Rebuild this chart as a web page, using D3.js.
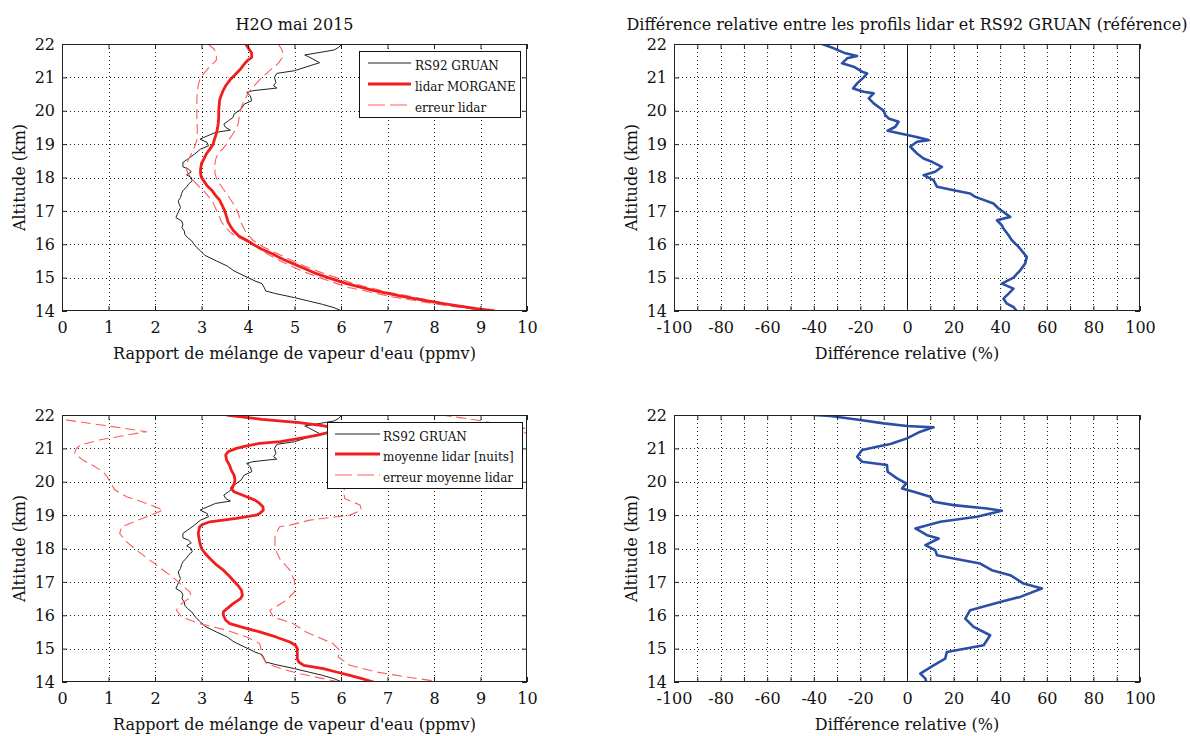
<!DOCTYPE html>
<html><head><meta charset="utf-8">
<script src="https://cdn.jsdelivr.net/npm/d3@7"></script>
<style>body{margin:0;background:#fff;} svg text{font-family:"DejaVu Serif",serif;fill:#111;}</style>
</head><body><svg id="c" width="1190" height="736"></svg>
<script>
// ---------- data (altitude km, value) ----------
const altTicks = [14,15,16,17,18,19,20,21,22];
const ppmvTicks = [0,1,2,3,4,5,6,7,8,9,10];
const diffTicks = [-100,-90,-80,-70,-60,-50,-40,-30,-20,-10,0,10,20,30,40,50,60,70,80,90,100];
const diffTickLabels = ["-100","","-80","","-60","","-40","","-20","","0","","20","","40","","60","","80","","100"];

const rs92 = [[22.0,6.02],[21.9,5.95],[21.82,5.85],[21.67,5.22],[21.62,5.3],[21.44,5.54],[21.2,5.0],[21.12,4.62],[21.0,4.57],[20.85,4.6],[20.75,4.55],[20.68,4.62],[20.6,4.1],[20.55,3.97],[20.45,4.05],[20.3,4.08],[20.2,3.92],[20.05,3.85],[19.9,3.7],[19.8,3.68],[19.7,3.58],[19.6,3.48],[19.5,3.52],[19.42,3.62],[19.35,3.3],[19.2,3.05],[19.15,2.97],[19.05,3.12],[18.95,3.15],[18.85,2.98],[18.7,2.85],[18.55,2.7],[18.45,2.6],[18.32,2.6],[18.25,2.72],[18.17,2.78],[18.08,2.68],[18.0,2.78],[17.9,2.8],[17.8,2.72],[17.72,2.68],[17.6,2.6],[17.52,2.57],[17.4,2.55],[17.3,2.5],[17.2,2.52],[17.1,2.55],[17.02,2.52],[16.9,2.48],[16.8,2.45],[16.7,2.57],[16.6,2.6],[16.5,2.58],[16.4,2.63],[16.3,2.64],[16.2,2.7],[16.1,2.79],[16.0,2.84],[15.9,2.9],[15.8,2.98],[15.67,3.07],[15.5,3.32],[15.35,3.55],[15.2,3.7],[15.1,3.85],[15.0,4.0],[14.9,4.15],[14.82,4.3],[14.7,4.35],[14.6,4.38],[14.52,4.6],[14.4,5.0],[14.3,5.3],[14.2,5.6],[14.1,5.85],[14.0,6.02]];

const lidarMai = [[22.0,3.95],[21.85,4.02],[21.72,4.08],[21.6,4.08],[21.52,4.0],[21.4,3.92],[21.22,3.82],[21.05,3.7],[20.92,3.61],[20.75,3.52],[20.62,3.47],[20.45,3.42],[20.32,3.39],[20.15,3.38],[20.0,3.37],[19.8,3.37],[19.62,3.36],[19.45,3.34],[19.32,3.32],[19.15,3.28],[19.0,3.25],[18.85,3.18],[18.72,3.11],[18.55,3.05],[18.42,3.0],[18.25,2.98],[18.12,2.98],[18.0,3.0],[17.92,3.04],[17.75,3.12],[17.62,3.22],[17.45,3.31],[17.32,3.39],[17.15,3.45],[17.0,3.5],[16.82,3.54],[16.67,3.57],[16.55,3.62],[16.42,3.68],[16.25,3.8],[16.12,3.97],[16.0,4.11],[15.85,4.3],[15.72,4.51],[15.55,4.75],[15.42,4.97],[15.25,5.25],[15.12,5.47],[15.0,5.72],[14.82,6.12],[14.62,6.69],[14.42,7.37],[14.22,8.2],[14.07,8.91],[14.0,9.31]];

const errBasMai = [[22.0,3.14],[21.85,3.27],[21.7,3.32],[21.52,3.32],[21.35,3.2],[21.2,3.1],[21.0,2.98],[20.82,2.94],[20.6,2.91],[20.3,2.9],[20.0,2.9],[19.7,2.9],[19.4,2.91],[19.12,2.9],[18.95,2.86],[18.82,2.82],[18.65,2.76],[18.52,2.71],[18.35,2.68],[18.22,2.68],[18.1,2.72],[17.92,2.82],[17.75,2.93],[17.62,3.04],[17.45,3.14],[17.32,3.22],[17.15,3.28],[17.02,3.32],[16.85,3.38],[16.67,3.43],[16.5,3.52],[16.32,3.65],[16.2,3.8],[16.07,4.0],[15.9,4.2],[15.72,4.4],[15.5,4.7],[15.32,4.97],[15.15,5.25],[15.0,5.54],[14.72,6.12],[14.42,7.12],[14.22,7.98],[14.1,8.6],[14.0,9.2]];

const errHautMai = [[22.0,4.65],[21.85,4.72],[21.72,4.76],[21.58,4.73],[21.42,4.65],[21.27,4.52],[21.12,4.4],[20.97,4.28],[20.82,4.18],[20.67,4.08],[20.52,4.0],[20.32,3.92],[20.12,3.86],[19.9,3.82],[19.62,3.79],[19.45,3.74],[19.32,3.68],[19.15,3.6],[19.0,3.54],[18.85,3.45],[18.72,3.36],[18.57,3.31],[18.42,3.29],[18.12,3.29],[17.95,3.33],[17.82,3.39],[17.67,3.46],[17.52,3.54],[17.37,3.61],[17.22,3.68],[17.07,3.74],[16.92,3.79],[16.62,3.86],[16.32,3.97],[16.12,4.11],[15.92,4.33],[15.77,4.55],[15.62,4.79],[15.47,5.02],[15.32,5.26],[15.15,5.58],[15.0,5.9],[14.85,6.2],[14.72,6.55],[14.57,7.0],[14.42,7.55],[14.3,7.98],[14.17,8.41],[14.08,8.85],[14.0,9.34]];

const diffMai = [[22.0,-36.4],[21.87,-31.4],[21.72,-26.4],[21.64,-21.4],[21.57,-25.7],[21.42,-27.9],[21.32,-22.9],[21.17,-19.3],[21.12,-17.1],[21.0,-18.6],[20.82,-21.4],[20.67,-23.1],[20.57,-18.6],[20.52,-14.3],[20.37,-16.4],[20.22,-14.3],[20.0,-10.0],[19.87,-9.3],[19.77,-7.9],[19.67,-3.6],[19.52,-5.0],[19.4,-8.3],[19.32,-2.9],[19.22,3.6],[19.12,9.3],[19.07,4.3],[18.92,1.4],[18.72,4.3],[18.57,7.1],[18.47,10.7],[18.32,15.0],[18.17,12.1],[18.07,7.1],[17.92,11.4],[17.72,12.9],[17.62,20.0],[17.52,27.1],[17.42,29.3],[17.22,37.1],[17.07,39.3],[16.82,44.3],[16.72,38.6],[16.57,40.7],[16.47,41.4],[16.27,43.6],[16.12,45.0],[15.92,47.9],[15.62,51.4],[15.42,50.7],[15.22,48.6],[15.0,45.7],[14.82,40.7],[14.67,45.7],[14.52,43.6],[14.37,41.4],[14.22,42.9],[14.12,45.7],[14.0,47.1]];

const lidarNuits = [[22.0,3.54],[21.87,4.3],[21.77,5.1],[21.68,5.6],[21.6,5.9],[21.5,5.8],[21.4,5.5],[21.3,5.11],[21.2,4.7],[21.15,4.25],[21.07,3.95],[21.0,3.75],[20.9,3.57],[20.8,3.52],[20.65,3.54],[20.5,3.6],[20.35,3.64],[20.2,3.7],[20.05,3.72],[19.92,3.7],[19.8,3.64],[19.7,3.7],[19.55,3.97],[19.45,4.15],[19.35,4.25],[19.25,4.32],[19.15,4.33],[19.05,4.25],[19.0,4.18],[18.9,3.75],[18.8,3.18],[18.72,3.02],[18.65,2.96],[18.45,2.93],[18.2,2.96],[18.0,3.0],[17.85,3.08],[17.7,3.18],[17.5,3.33],[17.35,3.47],[17.2,3.58],[17.05,3.68],[16.9,3.78],[16.75,3.86],[16.6,3.88],[16.5,3.84],[16.35,3.68],[16.2,3.55],[16.1,3.47],[16.0,3.47],[15.85,3.52],[15.75,3.61],[15.65,3.85],[15.5,4.25],[15.35,4.6],[15.2,4.9],[15.1,5.02],[15.0,5.06],[14.85,5.06],[14.7,5.06],[14.6,5.09],[14.5,5.2],[14.4,5.62],[14.3,5.9],[14.2,6.19],[14.1,6.45],[14.0,6.7]];

const errBasNuits = [[22.0,-1.2],[21.87,0.0],[21.7,0.85],[21.5,1.82],[21.4,1.4],[21.25,0.8],[21.1,0.4],[21.0,0.31],[20.85,0.27],[20.65,0.45],[20.5,0.65],[20.3,0.88],[20.15,0.97],[20.0,1.03],[19.75,1.14],[19.55,1.39],[19.35,1.82],[19.15,2.18],[18.95,1.82],[18.8,1.55],[18.65,1.28],[18.45,1.24],[18.2,1.39],[17.95,1.6],[17.65,1.89],[17.35,2.18],[17.05,2.46],[16.85,2.62],[16.7,2.75],[16.55,2.78],[16.4,2.62],[16.25,2.5],[16.15,2.46],[15.95,2.57],[15.75,2.96],[15.55,3.54],[15.35,3.97],[15.15,4.25],[15.0,4.28],[14.8,4.29],[14.55,4.4],[14.35,4.83],[14.25,5.11],[14.1,5.62],[14.0,5.97]];

const errHautNuits = [[22.0,8.16],[21.85,8.91],[21.7,9.5],[21.6,9.95],[21.5,10.1],[21.3,9.2],[21.1,7.8],[20.9,7.1],[20.6,6.8],[20.3,6.6],[20.0,6.3],[19.75,6.05],[19.5,6.08],[19.3,6.41],[19.15,6.44],[19.0,6.19],[18.85,5.33],[18.7,4.9],[18.65,4.68],[18.4,4.58],[18.0,4.58],[17.7,4.68],[17.35,4.9],[17.05,5.0],[16.7,5.0],[16.45,4.83],[16.15,4.47],[15.95,4.54],[15.75,4.97],[15.5,5.25],[15.15,5.83],[14.95,5.97],[14.75,5.94],[14.5,6.19],[14.3,6.76],[14.15,7.41],[14.0,8.16]];

const diffNuits = [[22.0,-40],[21.97,-32.9],[21.85,-20],[21.75,-10],[21.67,0],[21.63,11.4],[21.5,5.7],[21.3,0],[21.2,-4.3],[21.13,-7.1],[21.07,-11.4],[20.95,-19.3],[20.75,-21.4],[20.6,-19.3],[20.5,-8.6],[20.3,-8.3],[20.1,-4.3],[19.95,-0.3],[19.8,-2.1],[19.7,2.9],[19.55,10],[19.4,11.4],[19.3,20],[19.2,34.3],[19.13,40.7],[18.95,30],[18.8,14.3],[18.6,3.6],[18.4,8.6],[18.3,13.6],[18.1,7.9],[17.95,12.1],[17.8,12.9],[17.7,20],[17.55,31.4],[17.35,36.4],[17.2,44.3],[16.95,50],[16.8,57.9],[16.55,48.6],[16.4,40],[16.15,27.1],[15.9,25],[15.65,28.6],[15.4,35.7],[15.1,32.9],[14.9,17.1],[14.7,16.4],[14.5,11.4],[14.25,5.7],[14.1,7.9],[14.0,8.3]];

// ---------- styles ----------
const S = {
  rs92: {stroke:"#222", width:1, dash:null},
  lidar: {stroke:"#f21d1d", width:2.8, dash:null},
  err: {stroke:"#ff5c5c", width:1.1, dash:"10,5"},
  diff: {stroke:"#2c4fa6", width:2.6, dash:null}
};

const svg = d3.select("#c");

function panel(p) {
  const g = svg.append("g");
  const x = d3.scaleLinear().domain(p.xDomain).range([p.left, p.right]);
  const y = d3.scaleLinear().domain([14, 22]).range([p.bottom, p.top]);
  const cid = "clip" + p.id;
  svg.append("clipPath").attr("id", cid).append("rect")
    .attr("x", p.left).attr("y", p.top).attr("width", p.right - p.left).attr("height", p.bottom - p.top);
  const px = v => Math.round(x(v)) + 0.5, py = v => Math.round(y(v)) + 0.5;
  // grid
  const grid = g.append("g").attr("stroke", "#222").attr("stroke-width", 1).attr("stroke-dasharray", "1,3");
  grid.selectAll("line.v").data(p.xTicks.filter(v => v > p.xDomain[0] && v < p.xDomain[1])).join("line")
    .attr("x1", px).attr("x2", px).attr("y1", p.top).attr("y2", p.bottom);
  grid.selectAll("line.h").data(altTicks.filter(v => v > 14 && v < 22)).join("line")
    .attr("y1", py).attr("y2", py).attr("x1", p.left).attr("x2", p.right);
  // zero line
  if (p.zero) {
    g.append("line").attr("x1", px(0)).attr("x2", px(0)).attr("y1", p.top).attr("y2", p.bottom)
      .attr("stroke", "#111").attr("stroke-width", 1);
  }
  // series
  const line = d3.line().x(d => x(d[1])).y(d => y(d[0]));
  p.series.forEach(s => {
    g.append("path").datum(s.data).attr("d", line).attr("fill", "none")
      .attr("clip-path", `url(#${cid})`)
      .attr("stroke", s.style.stroke).attr("stroke-width", s.style.width)
      .attr("stroke-dasharray", s.style.dash).attr("stroke-linejoin", "round");
  });
  // axes
  const styleAxis = sel => {
    sel.select(".domain").remove();
    sel.attr("font-family", "DejaVu Serif").attr("font-size", 16);
    sel.selectAll(".tick line").attr("stroke", "#222");
    sel.selectAll(".tick text").attr("fill", "#111");
  };
  g.append("g").attr("transform", `translate(0,${p.bottom})`)
    .call(d3.axisBottom(x).tickValues(p.xTicks).tickSize(-5).tickPadding(11).tickFormat((d, i) => p.xLabels[i]))
    .call(styleAxis);
  g.append("g").attr("transform", `translate(0,${p.top})`)
    .call(d3.axisTop(x).tickValues(p.xTicks).tickSize(-5).tickFormat(""))
    .call(styleAxis);
  g.append("g").attr("transform", `translate(${p.left},0)`)
    .call(d3.axisLeft(y).tickValues(altTicks).tickSize(-5).tickPadding(7).tickFormat(d => String(d)))
    .call(styleAxis);
  g.append("g").attr("transform", `translate(${p.right},0)`)
    .call(d3.axisRight(y).tickValues(altTicks).tickSize(-5).tickFormat(""))
    .call(styleAxis);
  // frame
  g.append("rect").attr("x", p.left + 0.5).attr("y", p.top + 0.5)
    .attr("width", p.right - p.left - 1).attr("height", p.bottom - p.top - 1)
    .attr("fill", "none").attr("stroke", "#222").attr("stroke-width", 1);
  // labels
  const cx = (p.left + p.right) / 2, cy = (p.top + p.bottom) / 2;
  g.append("text").attr("x", cx).attr("y", p.bottom + 48).attr("text-anchor", "middle")
    .attr("font-size", 16).text(p.xTitle);
  g.append("text").attr("transform", `translate(${p.left - 37},${cy}) rotate(-90)`)
    .attr("text-anchor", "middle").attr("font-size", 16).text("Altitude (km)");
  if (p.title) {
    const t = g.append("text").attr("x", cx).attr("y", p.top - 14).attr("text-anchor", "middle")
      .attr("font-size", 16).text(p.title);
    const maxW = p.titleMax || 1000;
    const w = t.node().getComputedTextLength();
    if (w > maxW) t.attr("textLength", maxW).attr("lengthAdjust", "spacingAndGlyphs");
  }
  if (p.legend) legend(p.legend);
}

function legend(L) {
  const g = svg.append("g");
  g.append("rect").attr("x", L.x + 0.5).attr("y", L.y + 0.5).attr("width", L.w).attr("height", L.h)
    .attr("fill", "#fff").attr("stroke", "#111").attr("stroke-width", 1);
  L.items.forEach((it, i) => {
    const ly = L.y + L.rows[i];
    g.append("line").attr("x1", L.x + L.lx0).attr("x2", L.x + L.lx1).attr("y1", ly).attr("y2", ly)
      .attr("stroke", it.style.stroke).attr("stroke-width", it.style.width)
      .attr("stroke-dasharray", it.style.dash ? "17,5" : null);
    g.append("text").attr("x", L.x + L.tx).attr("y", ly + 7).attr("font-size", 12).text(it.label);
  });
}

const xlabPpmv = "Rapport de mélange de vapeur d'eau (ppmv)";
const xlabDiff = "Différence relative (%)";

panel({id: "tl", left: 62, right: 527, top: 44, bottom: 311, xDomain: [0, 10],
  xTicks: ppmvTicks, xLabels: ppmvTicks.map(String), xTitle: xlabPpmv, title: "H2O mai 2015",
  series: [{data: rs92, style: S.rs92}, {data: errBasMai, style: S.err}, {data: errHautMai, style: S.err}, {data: lidarMai, style: S.lidar}],
  legend: {x: 359, y: 51, w: 161, h: 66, lx0: 9, lx1: 52, tx: 56, rows: [12, 33, 54],
    items: [{label: "RS92 GRUAN", style: S.rs92}, {label: "lidar MORGANE", style: S.lidar}, {label: "erreur lidar", style: S.err}]}
});
panel({id: "tr", left: 674, right: 1140, top: 44, bottom: 311, xDomain: [-100, 100], zero: true,
  xTicks: diffTicks, xLabels: diffTickLabels, xTitle: xlabDiff,
  title: "Différence relative entre les profils lidar et RS92 GRUAN (référence)", titleMax: 564,
  series: [{data: diffMai, style: S.diff}]
});
panel({id: "bl", left: 62, right: 527, top: 415, bottom: 682, xDomain: [0, 10],
  xTicks: ppmvTicks, xLabels: ppmvTicks.map(String), xTitle: xlabPpmv,
  series: [{data: rs92, style: S.rs92}, {data: errBasNuits, style: S.err}, {data: errHautNuits, style: S.err}, {data: lidarNuits, style: S.lidar}],
  legend: {x: 327, y: 422, w: 195, h: 66, lx0: 8, lx1: 53, tx: 56, rows: [12, 32, 53],
    items: [{label: "RS92 GRUAN", style: S.rs92}, {label: "moyenne lidar [nuits]", style: S.lidar}, {label: "erreur moyenne lidar", style: S.err}]}
});
panel({id: "br", left: 674, right: 1140, top: 415, bottom: 682, xDomain: [-100, 100], zero: true,
  xTicks: diffTicks, xLabels: diffTickLabels, xTitle: xlabDiff,
  series: [{data: diffNuits, style: S.diff}]
});
</script></body></html>
